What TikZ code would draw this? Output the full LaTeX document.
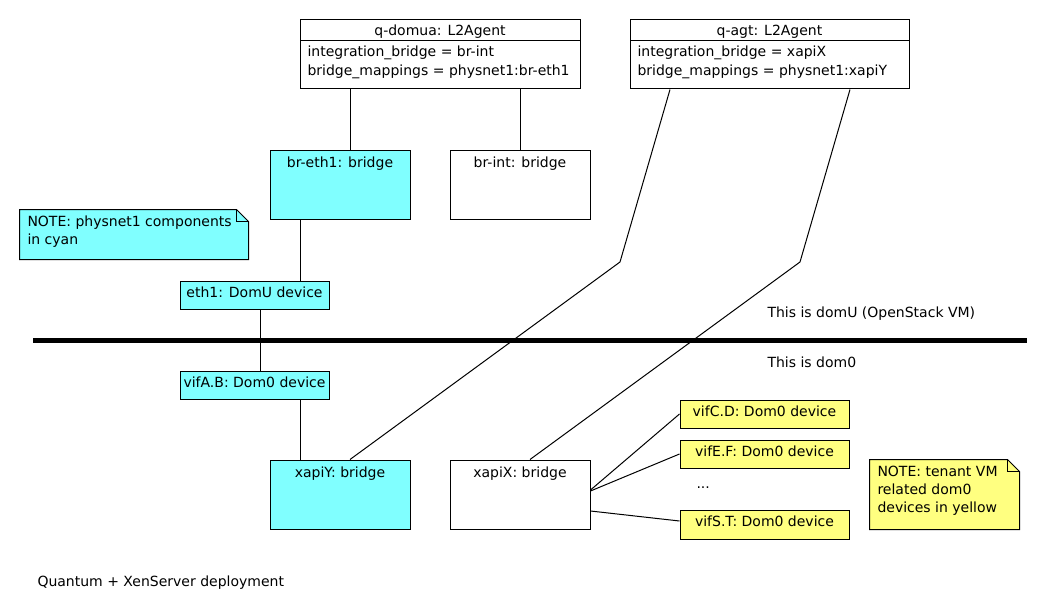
\documentclass[tikz,border=0pt]{standalone}
\usepackage{fontspec}
\setmainfont{DejaVu Sans}
\usetikzlibrary{fit}
\definecolor{cy}{HTML}{80FFFF}
\definecolor{yl}{HTML}{FFFF80}
\begin{document}
\begin{tikzpicture}[x=0.75pt,y=-0.75pt,line width=0.75pt,
  every node/.style={font=\fontsize{10.5}{13.5}\selectfont, inner sep=0pt},
  box/.style={draw, inner sep=0pt, line width=0.75pt},
  lbl/.style={anchor=base},
  attr/.style={anchor=base west},
  conn/.style={draw, line width=0.75pt}]
\useasboundingbox[fill=white] (0,0) rectangle (1050,610);

% classes
\node[box, fit={(300,20)(580,89)}] (qdomua) {};
\draw (300,41) -- (580,41);
\node[lbl] (qdomuat) at (440,36) {q-domua: L2Agent};
\node[attr] (qdomuaa) at (307,57) {integration\_bridge = br-int};
\node[attr] (qdomuab) at (307,75) {bridge\_mappings = physnet1:br-eth1};

\node[box, fit={(630,20)(909,89)}] (qagt) {};
\draw (630,41) -- (909,41);
\node[lbl] (qagtt) at (769.5,36) {q-agt: L2Agent};
\node[attr] (qagta) at (637,57) {integration\_bridge = xapiX};
\node[attr] (qagtb) at (637,75) {bridge\_mappings = physnet1:xapiY};

% bridges
\node[box, fill=cy, fit={(270,150)(410,219)}] (breth1) {};
\node[lbl] (breth1t) at (340,167) {br-eth1: bridge};
\node[box, fit={(450,150)(590,219)}] (brint) {};
\node[lbl] (brintt) at (520,167) {br-int: bridge};
\node[box, fill=cy, fit={(270,460)(410,529)}] (xapiY) {};
\node[lbl] (xapiYt) at (340,477) {xapiY: bridge};
\node[box, fit={(450,460)(590,529)}] (xapiX) {};
\node[lbl] (xapiXt) at (520,477) {xapiX: bridge};

% devices
\node[box, fill=cy, fit={(180,281)(329,309)}] (eth1) {};
\node[lbl] (eth1t) at (254.5,297) {eth1: DomU device};
\node[box, fill=cy, fit={(180,371)(329,399)}] (vifAB) {};
\node[lbl] (vifABt) at (254.5,387) {vifA.B: Dom0 device};
\node[box, fill=yl, fit={(680,400)(849,428)}] (vifCD) {};
\node[lbl] (vifCDt) at (764.5,416) {vifC.D: Dom0 device};
\node[box, fill=yl, fit={(680,440)(849,468)}] (vifEF) {};
\node[lbl] (vifEFt) at (764.5,456) {vifE.F: Dom0 device};
\node[box, fill=yl, fit={(680,510)(849,539)}] (vifST) {};
\node[lbl] (vifSTt) at (764.5,526) {vifS.T: Dom0 device};
\node[anchor=base west] (dots) at (696,488) {...};

% notes
\node[fit={(20,210)(248,259)}] (note1) {};
\filldraw[fill=cy] (note1.north west) -- ([xshift=-9pt]note1.north east) -- ([yshift=-9pt]note1.north east) -- (note1.south east) -- (note1.south west) -- cycle;
\draw ([xshift=-9pt]note1.north east) |- ([yshift=-9pt]note1.north east);
\node[anchor=north west, align=left] (note1t) at (27,215.5) {NOTE: physnet1 components\\in cyan};

\node[fit={(870,460)(1019,529)}] (note2) {};
\filldraw[fill=yl] (note2.north west) -- ([xshift=-9pt]note2.north east) -- ([yshift=-9pt]note2.north east) -- (note2.south east) -- (note2.south west) -- cycle;
\draw ([xshift=-9pt]note2.north east) |- ([yshift=-9pt]note2.north east);
\node[anchor=north west, align=left] (note2t) at (877,465.5) {NOTE: tenant VM\\related dom0\\devices in yellow};

% separator
\coordinate (sepL) at (33,340);
\coordinate (sepR) at (1027,340);
\draw[line width=3.75pt] (sepL) -- (sepR);
\node[anchor=base west] (domU) at (767,317) {This is domU (OpenStack VM)};
\node[anchor=base west] (dom0) at (767,367) {This is dom0};

\node[anchor=base west] (caption) at (37,586) {Quantum + XenServer deployment};

% connectors
\draw (qdomua.south -| 350,0) -- (breth1.north -| 350,0);
\draw (qdomua.south -| 520,0) -- (brint.north -| 520,0);
\draw (breth1.south -| 300,0) -- (eth1.north -| 300,0);
\draw (eth1.south -| 260,0) -- (vifAB.north -| 260,0);
\draw (vifAB.south -| 300,0) -- (xapiY.north -| 300,0);
\draw (qagt.south -| 670,0) -- (620,262) -- (xapiY.north -| 350,0);
\draw (qagt.south -| 850,0) -- (800,262) -- (xapiX.north -| 530,0);
\draw (xapiX.east |- 0,490) -- (vifCD.west |- 0,414);
\draw (xapiX.east |- 0,491) -- (vifEF.west |- 0,454);
\draw (xapiX.east |- 0,511) -- (vifST.west |- 0,521);
\end{tikzpicture}
\end{document}
